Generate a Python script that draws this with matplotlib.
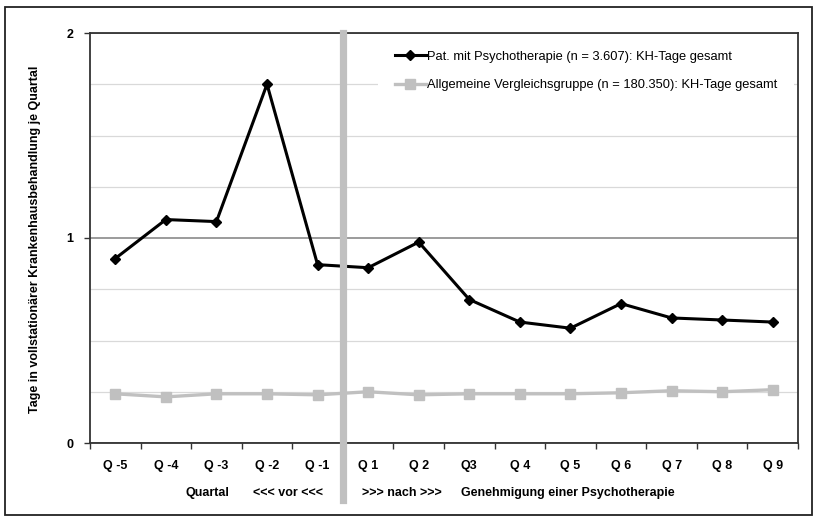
import numpy as np
import matplotlib.pyplot as plt
from matplotlib.patches import Rectangle
from matplotlib.ticker import MultipleLocator, FixedLocator

plt.rcParams['font.family'] = ['Liberation Sans', 'DejaVu Sans']

# Daten
quartale = ['Q -5', 'Q -4', 'Q -3', 'Q -2', 'Q -1', 'Q 1', 'Q 2',
            'Q3', 'Q 4', 'Q 5', 'Q 6', 'Q 7', 'Q 8', 'Q 9']
psycho = [0.90, 1.09, 1.08, 1.75, 0.87, 0.855, 0.98,
          0.70, 0.59, 0.56, 0.68, 0.61, 0.60, 0.59]
vergleich = [0.24, 0.225, 0.24, 0.24, 0.235, 0.25, 0.235,
             0.24, 0.24, 0.24, 0.245, 0.255, 0.25, 0.26]

label_psycho = 'Pat. mit Psychotherapie (n = 3.607): KH-Tage gesamt'
label_vergleich = 'Allgemeine Vergleichsgruppe (n = 180.350): KH-Tage gesamt'
y_label = 'Tage in vollstationärer Krankenhausbehandlung je Quartal'

W, H = 817, 527
fig = plt.figure(figsize=(W / 100, H / 100), dpi=100)
ax = fig.add_axes([90 / W, (H - 443) / H, 708 / W, 410 / H])

x = np.arange(len(quartale))

ax.plot(x, vergleich, color='#c0c0c0', lw=2.4, marker='s', ms=7,
        label=label_vergleich, zorder=3)
ax.plot(x, psycho, color='black', lw=2.2, marker='D', ms=5.5,
        label=label_psycho, zorder=4)

# Trennlinie vor / nach
ax.axvline(4.5, ymin=-0.139, ymax=1, color='#c0c0c0', lw=5.2,
           clip_on=False, zorder=5)

ax.set_xlim(-0.5, len(quartale) - 0.5)
ax.set_ylim(0, 2)

# Gitter
ax.yaxis.set_major_locator(FixedLocator([0, 1, 2]))
ax.yaxis.set_minor_locator(MultipleLocator(0.25))
ax.grid(axis='y', which='minor', color='#d9d9d9', lw=0.9, zorder=0)
ax.grid(axis='y', which='major', color='#808080', lw=1.1, zorder=1)
ax.tick_params(axis='y', which='minor', length=0)
ax.tick_params(axis='y', which='major', length=4, width=1, color='#333333',
               pad=8)

narrow = ['Liberation Sans Narrow', 'Liberation Sans']

ax.set_xticks(x)
ax.set_xticklabels(quartale, fontweight='bold', fontsize=9, family=narrow)
ax.tick_params(axis='x', which='major', length=0, pad=12)
ax.set_xticks(np.arange(-0.5, len(quartale)), minor=True)
ax.tick_params(axis='x', which='minor', length=4, width=1, color='#333333')

for lbl in ax.get_yticklabels():
    lbl.set_fontweight('bold')
    lbl.set_fontsize(9)

for s in ax.spines.values():
    s.set_color('#333333')
    s.set_linewidth(1.3)

fig.text(35 / W, (H - 239) / H, y_label, rotation=90, ha='center',
         va='center', fontsize=9, fontweight='bold')

yt = 1 - 493 / H
fig.text(186 / W, yt, 'Quartal', fontsize=9, fontweight='bold',
         family=narrow, va='center')
fig.text(253 / W, yt, '<<< vor <<<', fontsize=9, fontweight='bold',
         family=narrow, va='center')
fig.text(362 / W, yt, '>>> nach >>>', fontsize=9, fontweight='bold',
         family=narrow, va='center')
fig.text(461 / W, yt, 'Genehmigung einer Psychotherapie', fontsize=9,
         fontweight='bold', family=narrow, va='center')

handles, labels = ax.get_legend_handles_labels()
leg = ax.legend(handles[::-1], labels[::-1], loc='upper left',
                bbox_to_anchor=((378 - 90) / 708, 0.998), borderaxespad=0,
                prop={'size': 9.3}, frameon=True, fancybox=False,
                framealpha=1, facecolor='white', edgecolor='none',
                borderpad=1.3, handlelength=2.4, handletextpad=0.1,
                labelspacing=1.3)
leg.set_zorder(6)

# äußerer Rahmen
fig.patches.append(Rectangle((5 / W, (H - 515) / H), 807 / W, 508 / H,
                             transform=fig.transFigure, fill=False,
                             edgecolor='#222222', lw=1.3))

fig.savefig('out.png', dpi=100)
